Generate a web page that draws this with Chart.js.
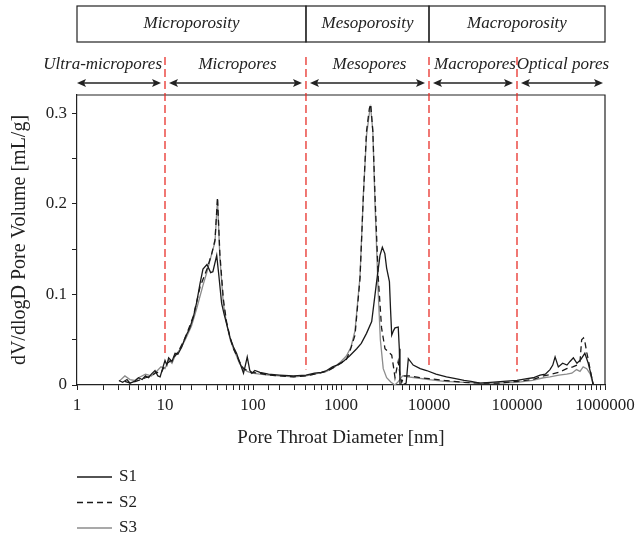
<!DOCTYPE html>
<html>
<head>
<meta charset="utf-8">
<script src="https://cdn.jsdelivr.net/npm/chart.js@4/dist/chart.umd.min.js"></script>
<style>
  html, body { margin: 0; padding: 0; background: #fff; }
  #wrap { width: 635px; height: 541px; }
</style>
</head>
<body>
<div id="wrap"><canvas id="myChart"></canvas></div>
<script>
// pore throat diameter [nm] and dV/dlogD [mL/g]
const s1 = [[3,0.005],[3.3,0.003],[3.7,0.006],[4,0.002],[4.5,0.004],[5,0.008],[5.5,0.006],[6,0.010],[6.5,0.008],[7,0.012],
  [7.7,0.016],[8.3,0.010],[8.8,0.009],[9.5,0.020],[10,0.027],[10.5,0.022],[11,0.030],[12,0.026],[13,0.035],[14,0.034],
  [15.5,0.042],[17,0.053],[19,0.062],[21,0.075],[23,0.092],[25,0.112],[27,0.128],[30,0.133],[33,0.124],[35,0.125],
  [38.7,0.143],[41,0.120],[44,0.090],[47,0.078],[50,0.068],[55,0.052],[60,0.042],[65,0.035],[70,0.026],[75,0.018],
  [78,0.013],[82,0.022],[86,0.031],[92,0.016],[97,0.013],[105,0.016],[120,0.014],[150,0.012],[200,0.011],[287,0.010],
  [400,0.011],[500,0.013],[600,0.014],[687,0.016],[800,0.020],[900,0.022],[1062,0.026],[1250,0.032],[1507,0.040],[1700,0.046],
  [1950,0.057],[2232,0.070],[2540,0.114],[2775,0.143],[2950,0.152],[3150,0.145],[3300,0.129],[3550,0.114],[3650,0.085],[3770,0.055],
  [3950,0.060],[4110,0.063],[4470,0.064],[4600,0.040],[4680,0.001],[5000,0.000],[5500,0.002],[5820,0.029],[6610,0.022],[7940,0.018],
  [9390,0.016],[12000,0.012],[15800,0.009],[20000,0.007],[25000,0.005],[30000,0.004],[38000,0.002],[50000,0.003],[70000,0.004],[100000,0.005],
  [130000,0.007],[153000,0.008],[183000,0.011],[210000,0.012],[237000,0.017],[255000,0.022],[271000,0.031],[295000,0.020],[330000,0.024],[370000,0.022],
  [400000,0.026],[437000,0.030],[480000,0.024],[530000,0.028],[590000,0.035],[645000,0.024],[700000,0.010],[736000,0.000]];

const s2 = [[3.5,0.004],[4,0.002],[5,0.005],[6,0.008],[7,0.010],[8,0.014],[9,0.013],[10,0.022],[11,0.025],[12,0.028],
  [14,0.036],[17,0.052],[21,0.076],[25,0.108],[30,0.128],[34,0.145],[37,0.160],[39.5,0.207],[42,0.145],[46,0.095],
  [50,0.070],[55,0.052],[60,0.040],[65,0.033],[70,0.026],[78,0.018],[86,0.016],[97,0.014],[120,0.013],[150,0.011],
  [200,0.010],[290,0.009],[400,0.010],[500,0.012],[687,0.015],[850,0.020],[1000,0.024],[1150,0.028],[1260,0.037],[1443,0.055],
  [1645,0.118],[1795,0.209],[1950,0.280],[2100,0.305],[2175,0.310],[2300,0.280],[2434,0.209],[2653,0.118],[2890,0.063],[3162,0.040],
  [3500,0.036],[3770,0.033],[3950,0.020],[4110,0.008],[4300,0.018],[4470,0.026],[4700,0.010],[4900,0.003],[5200,0.010],[6000,0.010],
  [8000,0.008],[10000,0.007],[15000,0.005],[25000,0.003],[40000,0.002],[60000,0.002],[100000,0.004],[150000,0.006],[200000,0.010],[250000,0.012],
  [300000,0.014],[367000,0.018],[430000,0.020],[480000,0.022],[520000,0.026],[543000,0.050],[570000,0.052],[590000,0.048],[620000,0.036],[645000,0.028],
  [700000,0.010],[736000,0.000]];

const s3 = [[3,0.004],[3.5,0.010],[4,0.006],[4.5,0.005],[5,0.008],[6,0.012],[7,0.010],[8,0.015],[9,0.020],[10,0.018],
  [11,0.028],[12,0.024],[13,0.032],[15,0.040],[17,0.050],[20,0.065],[23,0.085],[27,0.110],[30,0.125],[34,0.145],
  [37,0.158],[39.5,0.205],[42,0.141],[46,0.090],[50,0.068],[55,0.050],[60,0.040],[65,0.032],[70,0.024],[78,0.018],
  [86,0.015],[97,0.013],[120,0.012],[150,0.011],[200,0.010],[290,0.009],[400,0.010],[500,0.012],[687,0.015],[850,0.020],
  [1000,0.026],[1150,0.032],[1300,0.042],[1443,0.060],[1645,0.120],[1795,0.210],[1950,0.275],[2100,0.300],[2175,0.306],[2300,0.280],
  [2434,0.200],[2653,0.100],[2800,0.050],[3020,0.018],[3300,0.008],[3700,0.003],[4100,0.000],[4500,0.004],[5000,0.010],[5760,0.009],
  [7000,0.008],[10000,0.006],[15000,0.004],[25000,0.003],[40000,0.002],[60000,0.002],[100000,0.003],[150000,0.005],[200000,0.008],[237000,0.009],
  [300000,0.011],[367000,0.012],[420000,0.013],[475000,0.017],[520000,0.015],[565000,0.020],[620000,0.018],[680000,0.012],[736000,0.000]];

const seriesNames = ['S1', 'S2', 'S3'];
const xTickLabels = [1, 10, 100, 1000, 10000, 100000, 1000000];
const yTickLabels = [0, 0.1, 0.2, 0.3];

// pore classes: [from, to, label]
const porosityBoxes = [[1, 400, 'Microporosity'], [400, 10000, 'Mesoporosity'], [10000, 1000000, 'Macroporosity']];
const poreClasses = [[1, 10, 'Ultra-micropores'], [10, 400, 'Micropores'], [400, 10000, 'Mesopores'],
  [10000, 100000, 'Macropores'], [100000, 1000000, 'Optical pores']];
const boundaries = [10, 400, 10000, 100000];
const boundaryEnds = [0.035, 0.017, 0.02, 0.015];

const serif = '"Liberation Serif", "DejaVu Serif", serif';

function arrow(ctx, x1, x2, y) {
  ctx.beginPath();
  ctx.moveTo(x1 + 6, y);
  ctx.lineTo(x2 - 6, y);
  ctx.stroke();
  ctx.beginPath();
  ctx.moveTo(x1, y); ctx.lineTo(x1 + 9, y - 4); ctx.lineTo(x1 + 7, y); ctx.lineTo(x1 + 9, y + 4); ctx.closePath();
  ctx.moveTo(x2, y); ctx.lineTo(x2 - 9, y - 4); ctx.lineTo(x2 - 7, y); ctx.lineTo(x2 - 9, y + 4); ctx.closePath();
  ctx.fill();
}

const decor = {
  id: 'decor',
  afterDraw(chart) {
    const ctx = chart.ctx;
    const xs = chart.scales.x, ys = chart.scales.y;
    const a = chart.chartArea;
    ctx.save();

    // frame
    ctx.strokeStyle = '#222';
    ctx.lineWidth = 1.2;
    ctx.beginPath();
    ctx.moveTo(a.left, a.top); ctx.lineTo(a.right, a.top); ctx.lineTo(a.right, a.bottom);
    ctx.stroke();

    // top boxes
    ctx.font = 'italic 17px ' + serif;
    ctx.fillStyle = '#222';
    ctx.textAlign = 'center';
    ctx.textBaseline = 'middle';
    porosityBoxes.forEach(b => {
      const l = xs.getPixelForValue(b[0]), r = xs.getPixelForValue(b[1]);
      ctx.strokeRect(l, 6, r - l, 36);
      ctx.fillText(b[2], (l + r) / 2, 24);
    });

    // class labels and arrows
    ctx.lineWidth = 1.6;
    poreClasses.forEach((c, i) => {
      const l = xs.getPixelForValue(c[0]), r = xs.getPixelForValue(c[1]);
      if (i === 0) {
        ctx.textAlign = 'right';
        ctx.fillText(c[2], r - 3, 65);
      } else {
        ctx.textAlign = 'center';
        ctx.fillText(c[2], (l + r) / 2 + 2, 65);
      }
      arrow(ctx, l + (i === 0 ? 0 : 4), r - (i === poreClasses.length - 1 ? 2 : 4), 83);
    });

    // red boundary lines
    ctx.strokeStyle = '#e8302a';
    ctx.lineWidth = 1.3;
    ctx.setLineDash([8, 4]);
    boundaries.forEach((b, i) => {
      const x = xs.getPixelForValue(b);
      ctx.beginPath();
      ctx.moveTo(x, 57);
      ctx.lineTo(x, ys.getPixelForValue(boundaryEnds[i]));
      ctx.stroke();
    });
    ctx.setLineDash([]);

    // legend
    ctx.font = '17px ' + serif;
    ctx.textAlign = 'left';
    chart.data.datasets.forEach((d, i) => {
      const y = 477 + i * 25.5;
      ctx.strokeStyle = d.borderColor;
      ctx.lineWidth = d.borderWidth;
      ctx.setLineDash(d.borderDash || []);
      ctx.beginPath();
      ctx.moveTo(77, y); ctx.lineTo(112, y);
      ctx.stroke();
      ctx.setLineDash([]);
      ctx.fillStyle = '#222';
      ctx.fillText(d.label, 119, y);
    });
    ctx.restore();
  }
};

const toPts = arr => arr.map(p => ({x: p[0], y: p[1]}));
const styles = [
  {borderColor: '#1a1a1a', borderWidth: 1.3, borderDash: []},
  {borderColor: '#1a1a1a', borderWidth: 1.3, borderDash: [6, 4]},
  {borderColor: '#8c8c8c', borderWidth: 1.3, borderDash: []}
];

const ctx = document.getElementById('myChart').getContext('2d');
const chart = new Chart(ctx, {
  type: 'line',
  data: {
    datasets: [s1, s2, s3].map((s, i) => Object.assign({
      label: seriesNames[i],
      data: toPts(s),
      pointRadius: 0,
      tension: 0,
      fill: false
    }, styles[i]))
  },
  options: {
    responsive: true,
    maintainAspectRatio: false,
    animation: false,
    layout: {padding: {top: 95, right: 30, bottom: 86, left: 0}},
    plugins: {legend: {display: false}, tooltip: {enabled: false}},
    scales: {
      x: {
        type: 'logarithmic',
        min: 1,
        max: 1000000,
        afterFit(scale) { scale.height = 70; scale.paddingLeft = 0; scale.paddingRight = 0; },
        border: {color: '#222', width: 1.2},
        grid: {drawOnChartArea: false, drawTicks: true, tickLength: 5, color: '#222', lineWidth: 1},
        ticks: {
          autoSkip: false,
          maxRotation: 0,
          padding: 5,
          color: '#222',
          font: {family: serif, size: 17},
          callback: v => xTickLabels.includes(v) ? String(v) : ''
        },
        title: {display: true, text: 'Pore Throat Diameter [nm]', color: '#222',
          font: {family: serif, size: 19}, padding: {top: 0, bottom: 6}}
      },
      y: {
        min: 0,
        max: 0.32,
        afterFit(scale) { scale.width = 77; scale.paddingTop = 0; scale.paddingBottom = 0; },
        border: {color: '#222', width: 1.2},
        grid: {drawOnChartArea: false, drawTicks: true, tickLength: 5, color: '#222', lineWidth: 1},
        ticks: {
          stepSize: 0.05,
          includeBounds: false,
          padding: 5,
          color: '#222',
          font: {family: serif, size: 17},
          callback: v => {
            const r = Math.round(v * 100) / 100;
            return yTickLabels.includes(r) ? String(r) : '';
          }
        },
        title: {display: true, text: 'dV/dlogD Pore Volume [mL/g]', color: '#222',
          font: {family: serif, size: 20}, padding: {top: 8, bottom: 0}}
      }
    }
  },
  plugins: [decor]
});
</script>
</body>
</html>
